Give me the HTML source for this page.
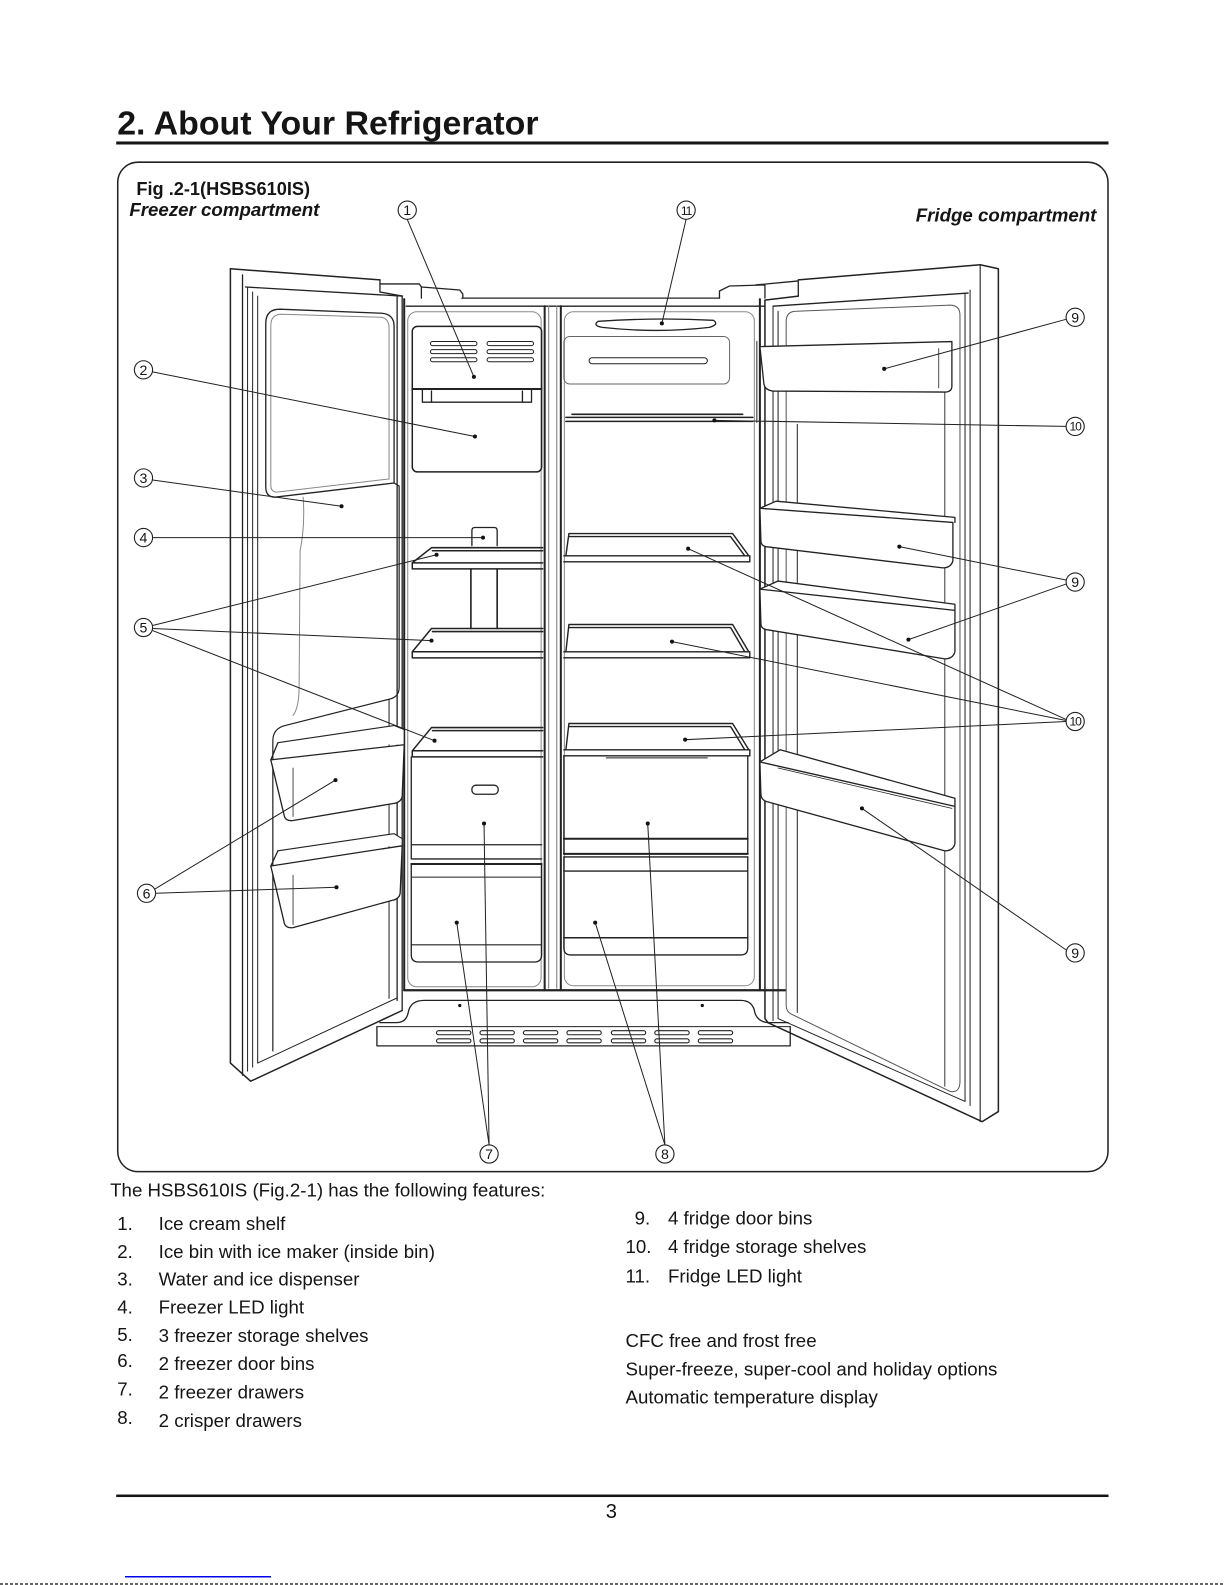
<!DOCTYPE html>
<html><head><meta charset="utf-8"><style>
html,body{margin:0;padding:0;background:#fff;}
svg{display:block;}
text{font-family:"Liberation Sans",Arial,sans-serif;fill:#151515;}
</style></head><body>
<svg width="1225" height="1585" viewBox="0 0 1225 1585" xmlns="http://www.w3.org/2000/svg">
<rect x="0" y="0" width="1225" height="1585" fill="#fff"/>
<g transform="scale(1.0105)">

<!-- Title -->
<text x="116" y="133" font-size="33" font-weight="bold" textLength="417" lengthAdjust="spacingAndGlyphs">2. About Your Refrigerator</text>
<rect x="115" y="140" width="982" height="3" fill="#151515"/>

<!-- Figure box -->
<rect x="116.5" y="160.5" width="980" height="999" rx="20" fill="none" stroke="#222" stroke-width="1.5"/>
<text x="135" y="193" font-size="18" font-weight="bold">Fig .2-1(HSBS610IS)</text>
<text x="128" y="214" font-size="18.5" font-weight="bold" font-style="italic">Freezer compartment</text>
<text x="1085" y="219" font-size="18.5" font-weight="bold" font-style="italic" text-anchor="end">Fridge compartment</text>

<g fill="none" stroke="#222" stroke-width="1.3" stroke-linejoin="round" stroke-linecap="round">
  <!-- ===== Cabinet ===== -->
  <path d="M457,295 L712,295"/>
  <path d="M402,303 L757,303"/>
  <path d="M376,277 L376,289 L398,293 M376,281 L415,281 L417,284 L417,295 M417,284 L455,287 L458,291 L458,295" fill="#fff"/>
  <path d="M712,295 L712,288 L722,283 L757,282 L757,295 M748,282 L790,278 L790,293"/>
  <path d="M400,296 L400,980" stroke-width="2"/>
  <path d="M752,296 L752,980" stroke-width="2"/>
  <path d="M539,303 L539,980" stroke-width="2"/>
  <path d="M555,303 L555,980" stroke-width="2"/>
  <path d="M543,303 L543,978 M551,303 L551,978" stroke="#777" stroke-width="1"/>
  <rect x="403.5" y="308.5" width="132" height="668" rx="9" stroke="#888" stroke-width="1"/>
  <rect x="558.5" y="308.5" width="188" height="667" rx="9" stroke="#888" stroke-width="1"/>
  <path d="M400,980 L777,980" stroke-width="2.2"/>

  <!-- ===== Freezer interior ===== -->
  <rect x="408" y="323" width="128" height="144" rx="5" stroke-width="1.5"/>
  <path d="M408,385 L536,385" stroke-width="2"/>
  <path d="M418,385 L418,398 L526,398 L526,385 M427,387 L427,398 M517,387 L517,398"/>
  <g stroke-width="1">
    <rect x="426" y="338" width="46" height="4" rx="2"/>
    <rect x="482" y="338" width="46" height="4" rx="2"/>
    <rect x="426" y="346" width="46" height="4" rx="2"/>
    <rect x="482" y="346" width="46" height="4" rx="2"/>
    <rect x="426" y="354" width="46" height="4" rx="2"/>
    <rect x="482" y="354" width="46" height="4" rx="2"/>
  </g>
  <path d="M467,540 L467,525 Q467,522 470,522 L489,522 Q492,522 492,525 L492,540"/>
  <path d="M466,563 L466,622 M492,563 L492,622" stroke-width="1.6"/>
  <path d="M427,542 L537,542 M428,545 L537,545 M427,542 L408,557 M408,557 L537,557 M408,563 L537,563 M408,557 L408,563" stroke-width="1.5"/>
  <path d="M427,622 L537,622 M428,625 L537,625 M427,622 L408,645 M408,645 L537,645 M408,651 L537,651 M408,645 L408,651" stroke-width="1.5"/>
  <path d="M427,720 L537,720 M428,723 L537,723 M427,720 L408,743 M408,743 L537,743 M408,749 L537,749 M408,743 L408,749" stroke-width="1.5"/>
  <path d="M407,749 L407,850 L536,850 M407,836 L536,836" stroke-width="1.3"/>
  <rect x="467" y="777" width="26" height="9" rx="4"/>
  <path d="M407,855 L536,855" stroke-width="2"/>
  <path d="M407,855 L407,945 Q407,952 414,952 L529,952 Q536,952 536,945 L536,855"/>
  <path d="M407,868 L536,868 M407,935 L536,935" stroke-width="1"/>

  <!-- ===== Fridge interior ===== -->
  <path d="M592,318 Q586,322 596,324 Q650,330 702,324 Q712,321 706,317 Q650,314 592,318 Z"/>
  <rect x="558" y="333" width="164" height="47" rx="6" stroke="#666" stroke-width="1"/>
  <rect x="583" y="354" width="117" height="6" rx="3" stroke-width="1"/>
  <path d="M749,338 L749,418" stroke-width="1"/>
  <path d="M566,410 L735,410 M560,413 L745,413 M560,417 L745,417" stroke-width="1.5"/>
  <path d="M563,528 L725,528 L741,550 M563,531 L723,531 L737,550 M563,528 L560,550 M558,550 L742,550 M558,556 L742,556 M742,550 L742,556" stroke-width="1.4"/>
  <path d="M563,618 L725,618 L741,645 M563,621 L723,621 L737,645 M563,618 L560,645 M558,645 L742,645 M558,651 L742,651 M742,645 L742,651" stroke-width="1.4"/>
  <path d="M563,716 L725,716 L741,742 M563,719 L723,719 L737,742 M563,716 L560,742 M558,742 L742,742 M558,748 L742,748 M742,742 L742,748" stroke-width="1.4"/>
  <path d="M558,748 L558,845 M740,748 L740,845"/>
  <path d="M600,750 L700,750" stroke-width="1"/>
  <path d="M558,830 L740,830 M558,845 L740,845" stroke-width="2"/>
  <path d="M558,848 L740,848 M558,862 L740,862" stroke-width="1.4"/>
  <path d="M558,848 L558,938 Q558,945 565,945 L733,945 Q740,945 740,938 L740,848"/>
  <path d="M558,928 L740,928" stroke-width="1.4"/>

  <!-- ===== Base plate ===== -->
  <path d="M376,1012 L392,1012 Q402,1012 404,1002 Q406,990 420,990 L733,990 Q745,990 747,1002 Q750,1012 762,1012 L780,1012"/>
  <path d="M373,1016 L373,1035 L782,1035 L782,1016"/>
  <path d="M373,1016 L782,1016" stroke-width="1"/>
  <g stroke-width="1.1">
    <rect x="432" y="1020" width="34" height="4" rx="2"/><rect x="432" y="1028" width="34" height="4" rx="2"/>
    <rect x="475" y="1020" width="34" height="4" rx="2"/><rect x="475" y="1028" width="34" height="4" rx="2"/>
    <rect x="518" y="1020" width="34" height="4" rx="2"/><rect x="518" y="1028" width="34" height="4" rx="2"/>
    <rect x="561" y="1020" width="34" height="4" rx="2"/><rect x="561" y="1028" width="34" height="4" rx="2"/>
    <rect x="605" y="1020" width="34" height="4" rx="2"/><rect x="605" y="1028" width="34" height="4" rx="2"/>
    <rect x="648" y="1020" width="34" height="4" rx="2"/><rect x="648" y="1028" width="34" height="4" rx="2"/>
    <rect x="691" y="1020" width="34" height="4" rx="2"/><rect x="691" y="1028" width="34" height="4" rx="2"/>
  </g>

  <!-- ===== Freezer door ===== -->
  <path d="M228,266 L376,277" stroke-width="1.5"/>
  <path d="M228,266 L228,1052 L248,1070 L398,1000" stroke-width="1.5"/>
  <path d="M240,272 L240,1064" />
  <path d="M243,284 L398,293"/>
  <path d="M245,284 L245,1060 M250,289 L250,1056 M255,293 L255,1052" stroke-width="1"/>
  <path d="M255,1052 L392,988" stroke-width="1"/>
  <path d="M393,293 L393,990 M398,293 L398,1000" stroke-width="1.3"/>
  <path d="M263,320 Q263,306 277,306 L378,310 Q390,311 390,323 L390,478 L272,492 Q263,492 263,482 Z"/>
  <path d="M268,322 Q268,311 279,311 L377,314 Q385,315 385,325 L385,474 L274,487 Q268,487 268,480 Z" stroke="#888" stroke-width="1"/>
  <path d="M390,478 L395,481 L395,680 Q395,690 385,692 L282,718 Q270,721 270,733 L270,1040" stroke-width="1.2"/>
  <path d="M300,492 Q302,520 297,545 L296,680 Q296,700 290,708" stroke="#888" stroke-width="1"/>
  <path d="M385,692 L385,988" stroke-width="1"/>
  <path d="M275,735 L390,718 L400,722 L400,737" fill="#fff" stroke-width="1.1"/>
  <path d="M268,752 L400,737 L398,788 Q397,794 390,795 L290,812 Q282,813 281,806 Z" fill="#fff"/>
  <path d="M268,752 L275,735" />
  <path d="M290,760 L290,808" stroke-width="0.8"/>
  <path d="M275,842 L390,825 L398,830 L398,837" fill="#fff" stroke-width="1.1"/>
  <path d="M268,857 L398,837 L396,884 Q395,890 388,891 L290,918 Q282,919 281,912 Z" fill="#fff"/>
  <path d="M268,857 L275,842"/>
  <path d="M290,866 L290,915" stroke-width="0.8"/>

  <!-- ===== Fridge door ===== -->
  <path d="M790,277 L970,262 L988,266 L988,1100 L972,1110 L760,1012 L757,1008 L757,297 L790,293" stroke-width="1.5"/>
  <path d="M970,262 L970,1110" stroke-width="1.1"/>
  <path d="M765,303 L958,290" />
  <path d="M765,303 L765,1010 M770,308 L770,1008" stroke-width="1"/>
  <path d="M955,290 L955,1090 M960,287 L960,1094" stroke-width="1"/>
  <path d="M770,1008 L955,1090" stroke-width="1"/>
  <path d="M778,318 Q778,308 788,308 L940,302 Q950,302 950,312 L950,1070 Q950,1082 940,1080 L782,1003 Q778,1000 778,995 Z" stroke="#555" stroke-width="1"/>
  <path d="M789,420 L789,1002" stroke-width="1"/>
  <path d="M935,385 L935,1075" stroke-width="0.9"/>
  <path d="M752,343 L942,338 L942,382 Q942,388 935,388 L765,387 Q757,386 756,380 Z" fill="#fff"/>
  <path d="M929,345 L929,384" stroke-width="0.8"/>
  <path d="M752,503 L768,496 L945,512 L945,517" fill="#fff"/>
  <path d="M752,503 L943,517 L943,555 Q941,562 933,562 L758,541 Q753,540 753,535 Z" fill="#fff"/>
  <path d="M752,583 L770,575 L945,598 L945,604" fill="#fff"/>
  <path d="M752,583 L945,604 L945,645 Q943,652 935,652 L758,623 Q753,622 753,617 Z" fill="#fff"/>
  <path d="M752,754 L772,742 L945,790 L945,798" fill="#fff"/>
  <path d="M752,754 L945,798 L945,835 Q943,842 935,842 L758,793 Q753,791 753,786 Z" fill="#fff"/>
  <path d="M770,760 L942,800" stroke-width="0.8"/>
</g>

<!-- Leader lines -->
<g stroke="#222" stroke-width="1" fill="none">
  <path d="M403,217 L469,373"/>
  <path d="M679,217 L655,320"/>
  <path d="M151,368 L470,432"/>
  <path d="M151,475 L338,501"/>
  <path d="M151,532 L478,532"/>
  <path d="M151,619 L432,549 M151,622 L427,634 M151,624 L430,733"/>
  <path d="M153,880 L332,772 M154,884 L333,878"/>
  <path d="M484,1133 L452,913 M484,1133 L479,815"/>
  <path d="M658,1133 L589,913 M658,1133 L641,815"/>
  <path d="M1055,316 L875,365"/>
  <path d="M1055,422 L707,416"/>
  <path d="M1055,574 L890,541 M1055,578 L899,633"/>
  <path d="M1055,712 L681,543 M1055,713 L665,635 M1055,714 L678,732"/>
  <path d="M1055,940 L853,800"/>
</g>
<g fill="#111">
  <circle cx="469" cy="373" r="2"/><circle cx="655" cy="320" r="2"/>
  <circle cx="470" cy="432" r="2"/><circle cx="338" cy="501" r="2"/>
  <circle cx="478" cy="532" r="2"/><circle cx="432" cy="549" r="2"/>
  <circle cx="427" cy="634" r="2"/><circle cx="430" cy="733" r="2"/>
  <circle cx="332" cy="772" r="2"/><circle cx="333" cy="878" r="2"/>
  <circle cx="452" cy="913" r="2"/><circle cx="479" cy="815" r="2"/>
  <circle cx="589" cy="913" r="2"/><circle cx="641" cy="815" r="2"/>
  <circle cx="875" cy="365" r="2"/><circle cx="707" cy="416" r="2"/>
  <circle cx="890" cy="541" r="2"/><circle cx="899" cy="633" r="2"/>
  <circle cx="681" cy="543" r="2"/><circle cx="665" cy="635" r="2"/>
  <circle cx="678" cy="732" r="2"/><circle cx="853" cy="800" r="2"/>
  <circle cx="455" cy="995" r="1.6"/><circle cx="695" cy="995" r="1.6"/>
</g>

<!-- Callout circles -->
<g stroke="#222" stroke-width="1.1" fill="#fff">
  <circle cx="403" cy="208" r="9"/><circle cx="679" cy="208" r="9"/>
  <circle cx="142" cy="366" r="9"/><circle cx="142" cy="473" r="9"/>
  <circle cx="142" cy="532" r="9"/><circle cx="142" cy="621" r="9"/>
  <circle cx="145" cy="884" r="9"/><circle cx="484" cy="1142" r="9"/>
  <circle cx="658" cy="1142" r="9"/>
  <circle cx="1064" cy="314" r="9"/><circle cx="1064" cy="422" r="9"/>
  <circle cx="1064" cy="576" r="9"/><circle cx="1064" cy="714" r="9"/>
  <circle cx="1064" cy="943" r="9"/>
</g>
<g font-size="14" text-anchor="middle">
  <text x="403" y="213">1</text><text x="679" y="213" font-size="12" letter-spacing="-1">11</text>
  <text x="142" y="371">2</text><text x="142" y="478">3</text>
  <text x="142" y="537">4</text><text x="142" y="626">5</text>
  <text x="145" y="889">6</text><text x="484" y="1147">7</text>
  <text x="658" y="1147">8</text>
  <text x="1064" y="319">9</text><text x="1064" y="426" font-size="12" letter-spacing="-1">10</text>
  <text x="1064" y="581">9</text><text x="1064" y="718" font-size="12" letter-spacing="-1">10</text>
  <text x="1064" y="948">9</text>
</g>

<!-- Feature list -->
<g font-size="18.5">
  <text x="109" y="1184">The HSBS610IS (Fig.2-1) has the following features:</text>
  <text x="116" y="1217">1.</text><text x="157" y="1217">Ice cream shelf</text>
  <text x="116" y="1245">2.</text><text x="157" y="1245">Ice bin with ice maker (inside bin)</text>
  <text x="116" y="1272">3.</text><text x="157" y="1272">Water and ice dispenser</text>
  <text x="116" y="1300">4.</text><text x="157" y="1300">Freezer LED light</text>
  <text x="116" y="1327">5.</text><text x="157" y="1328">3 freezer storage shelves</text>
  <text x="116" y="1353">6.</text><text x="157" y="1356">2 freezer door bins</text>
  <text x="116" y="1381">7.</text><text x="157" y="1384">2 freezer drawers</text>
  <text x="116" y="1409">8.</text><text x="157" y="1412">2 crisper drawers</text>

  <text x="628" y="1212">9.</text><text x="661" y="1212">4 fridge door bins</text>
  <text x="619" y="1240">10.</text><text x="661" y="1240">4 fridge storage shelves</text>
  <text x="619" y="1269">11.</text><text x="661" y="1269">Fridge LED light</text>

  <text x="619" y="1333">CFC free and frost free</text>
  <text x="619" y="1361">Super-freeze, super-cool and holiday options</text>
  <text x="619" y="1389">Automatic temperature display</text>
</g>

<!-- Footer -->
<rect x="115" y="1479" width="982" height="2.5" fill="#151515"/>
<text x="605" y="1502" font-size="20" text-anchor="middle">3</text>
</g>
<rect x="125" y="1576" width="146" height="1.5" fill="#0000ee"/>
<line x1="0" y1="1584" x2="1225" y2="1584" stroke="#666" stroke-width="2" stroke-dasharray="3,2"/>
</svg>
</body></html>
